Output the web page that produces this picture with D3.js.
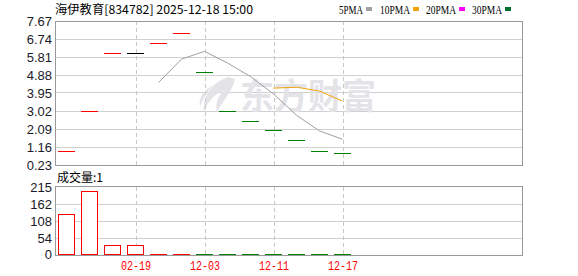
<!DOCTYPE html>
<html>
<head>
<meta charset="utf-8">
<script src="https://cdn.jsdelivr.net/npm/d3@7"></script>
<style>
  body { margin: 0; background: #fff; }
  svg { display: block; }
</style>
</head>
<body>
<div id="chart"></div>
<script>
var closes = [0.95, 3.00, 6.00, 6.00, 6.50, 7.02, 5.00, 3.00, 2.50, 2.00, 1.50, 0.95, 0.85];
var ma5 = [null, null, null, null, 4.49, 5.70, 6.10, 5.50, 4.80, 3.90, 2.80, 1.99, 1.56];
var ma10 = [null, null, null, null, null, null, null, null, null, 4.20, 4.25, 4.05, 3.53];
var volumes = [128, 202, 34, 34, 1, 1, 1, 1, 1, 1, 1, 1, 1];
var priceTicks = [7.67, 6.74, 5.81, 4.88, 3.95, 3.02, 2.09, 1.16, 0.23];
var volTicks = [215, 162, 108, 54, 0];
var dateIdx = [3, 6, 9, 12];
var dateLabels = ["02-19", "12-03", "12-11", "12-17"];
var legendNames = ["5PMA", "10PMA", "20PMA", "30PMA"];
var legendColors = ["#a0a0a0", "#f0a30a", "#ff00ff", "#006e2e"];

var W = 578, H = 276;
var left = 55, right = 522;
var mainTop = 21, mainBottom = 165;
var volTop = 187, volBottom = 255;

var svg = d3.select("#chart").append("svg")
    .attr("width", W)
    .attr("height", H);

var x = d3.scaleBand()
    .domain(d3.range(20))
    .range([left, left + 460])
    .paddingInner(0.26)
    .paddingOuter(0.13);

var y = d3.scaleLinear()
    .domain([0.23, 7.67])
    .range([mainBottom, mainTop]);

var yv = d3.scaleLinear()
    .domain([0, 215])
    .range([256, 187]);

function px(v) { return Math.floor(v) + 0.5; }
function cx(i) { return Math.round(x(i) + x.bandwidth() / 2); }

// title + legend
svg.append("text")
    .attr("x", 55).attr("y", 14)
    .attr("font-family", "'Noto Sans CJK SC', sans-serif")
    .attr("font-size", "12px")
    .attr("fill", "#000")
    .attr("textLength", 198)
    .attr("lengthAdjust", "spacingAndGlyphs")
    .text("海伊教育[834782] 2025-12-18 15:00");

var legX = [339, 380, 426, 472];
var legW = [24, 30, 30, 30];
legendNames.forEach(function (n, i) {
    svg.append("text")
        .attr("x", legX[i]).attr("y", 14)
        .attr("font-family", "'Liberation Serif', serif")
        .attr("font-size", "12px")
        .attr("fill", "#000")
        .attr("textLength", legW[i])
        .attr("lengthAdjust", "spacingAndGlyphs")
        .text(n);
    svg.append("rect")
        .attr("x", legX[i] + legW[i] + 3).attr("y", 7)
        .attr("width", 6).attr("height", 4)
        .attr("fill", legendColors[i]);
});

// main pane
var gMain = svg.append("g");
gMain.selectAll(".hgrid")
    .data(priceTicks.slice(1, -1))
    .enter().append("line")
    .attr("x1", left).attr("x2", right)
    .attr("y1", function (d) { return px(y(d)); })
    .attr("y2", function (d) { return px(y(d)); })
    .attr("stroke", "#d0d0d0")
    .attr("shape-rendering", "crispEdges");

// watermark
var wm = gMain.append("g").attr("fill", "#e4e4e8");
wm.append("path")
    .attr("d", "M228,77 C212,83 202,96 204,112 C208,101 215,94 224,90 C217,98 215,105 217,112 C224,99 233,90 235,79 Z M213,85 C204,90 198,98 200,107 C203,98 207,92 213,85 Z");
wm.append("text")
    .attr("x", 240).attr("y", 109)
    .attr("font-family", "'Noto Sans CJK SC', sans-serif")
    .attr("font-weight", "bold")
    .attr("font-size", "35px")
    .attr("textLength", 136)
    .attr("lengthAdjust", "spacingAndGlyphs")
    .text("东方财富");

gMain.selectAll(".vgrid")
    .data(dateIdx)
    .enter().append("line")
    .attr("x1", function (d) { return cx(d) + 0.5; })
    .attr("x2", function (d) { return cx(d) + 0.5; })
    .attr("y1", mainTop).attr("y2", mainBottom)
    .attr("stroke", "#c8c8c8")
    .attr("stroke-dasharray", "4,3")
    .attr("shape-rendering", "crispEdges");

function candleColor(d, i) {
    if (i === 0 || d > closes[i - 1]) return "#ff0000";
    if (d < closes[i - 1]) return "#008000";
    return "#000000";
}

// open = close on every day, so each candle is a flat bar
gMain.selectAll(".candle")
    .data(closes)
    .enter().append("rect")
    .attr("x", function (d, i) { return Math.round(x(i)); })
    .attr("width", Math.round(x.bandwidth()))
    .attr("y", function (d) { return Math.floor(y(d)); })
    .attr("height", 1)
    .attr("fill", candleColor)
    .attr("shape-rendering", "crispEdges");

function maLine(data, color) {
    var line = d3.line()
        .defined(function (d) { return d != null; })
        .x(function (d, i) { return x(i) + x.bandwidth() / 2; })
        .y(function (d) { return y(d); });
    gMain.append("path")
        .datum(data)
        .attr("d", line)
        .attr("fill", "none")
        .attr("stroke", color)
        .attr("stroke-width", 1);
}
maLine(ma5, "#a0a0a0");
maLine(ma10, "#f0a30a");

gMain.append("rect")
    .attr("x", left + 0.5).attr("y", mainTop + 0.5)
    .attr("width", right - left).attr("height", mainBottom - mainTop)
    .attr("fill", "none")
    .attr("stroke", "#999")
    .attr("shape-rendering", "crispEdges");

gMain.selectAll(".ptick")
    .data(priceTicks)
    .enter().append("text")
    .attr("x", 52)
    .attr("y", function (d) { return y(d); })
    .attr("dy", "0.36em")
    .attr("text-anchor", "end")
    .attr("font-family", "'Liberation Sans', Arial, sans-serif")
    .attr("font-size", "13px")
    .attr("fill", "#1a1a2a")
    .text(function (d) { return d.toFixed(2); });

// volume pane
var gVol = svg.append("g");
gVol.append("text")
    .attr("x", 57).attr("y", 182)
    .attr("font-family", "'Noto Sans CJK SC', sans-serif")
    .attr("font-size", "12px")
    .attr("fill", "#000")
    .text("成交量:" + volumes[volumes.length - 1]);

gVol.selectAll(".vhgrid")
    .data(volTicks.slice(1, -1))
    .enter().append("line")
    .attr("x1", left).attr("x2", right)
    .attr("y1", function (d) { return px(yv(d)); })
    .attr("y2", function (d) { return px(yv(d)); })
    .attr("stroke", "#d0d0d0")
    .attr("shape-rendering", "crispEdges");

gVol.selectAll(".vvgrid")
    .data(dateIdx)
    .enter().append("line")
    .attr("x1", function (d) { return cx(d) + 0.5; })
    .attr("x2", function (d) { return cx(d) + 0.5; })
    .attr("y1", volTop).attr("y2", volBottom)
    .attr("stroke", "#c8c8c8")
    .attr("stroke-dasharray", "4,3")
    .attr("shape-rendering", "crispEdges");

function isDown(i) { return i > 0 && closes[i] < closes[i - 1]; }
function volColor(d, i) { return isDown(i) ? "#008000" : "#ff0000"; }

var big = volumes.map(function (v, i) { return {v: v, i: i}; })
    .filter(function (d) { return volBottom - yv(d.v) >= 2; });
var tiny = volumes.map(function (v, i) { return {v: v, i: i}; })
    .filter(function (d) { return volBottom - yv(d.v) < 2; });

gVol.selectAll(".vbar")
    .data(big)
    .enter().append("rect")
    .attr("x", function (d) { return Math.round(x(d.i)) + 0.5; })
    .attr("width", Math.round(x.bandwidth()) - 1)
    .attr("y", function (d) { return px(yv(d.v)); })
    .attr("height", function (d) { return volBottom - px(yv(d.v)) - 1; })
    .attr("fill", function (d) { return isDown(d.i) ? "#008000" : "#fff"; })
    .attr("stroke", function (d) { return volColor(d.v, d.i); })
    .attr("shape-rendering", "crispEdges");

// volumes too small to show a box sit as a 1px line on the floor
gVol.selectAll(".vflat")
    .data(tiny)
    .enter().append("rect")
    .attr("x", function (d) { return Math.round(x(d.i)); })
    .attr("width", Math.round(x.bandwidth()))
    .attr("y", volBottom - 1)
    .attr("height", 1)
    .attr("fill", function (d) { return volColor(d.v, d.i); })
    .attr("shape-rendering", "crispEdges");

gVol.append("rect")
    .attr("x", left + 0.5).attr("y", volTop - 0.5)
    .attr("width", right - left).attr("height", volBottom - volTop + 1)
    .attr("fill", "none")
    .attr("stroke", "#999")
    .attr("shape-rendering", "crispEdges");

gVol.selectAll(".vtick")
    .data(volTicks)
    .enter().append("text")
    .attr("x", 52)
    .attr("y", function (d) { return Math.min(yv(d), 254); })
    .attr("dy", "0.36em")
    .attr("text-anchor", "end")
    .attr("font-family", "'Liberation Sans', Arial, sans-serif")
    .attr("font-size", "13px")
    .attr("fill", "#1a1a2a")
    .text(function (d) { return d; });

gVol.selectAll(".xlab")
    .data(dateIdx)
    .enter().append("text")
    .attr("x", function (d) { return cx(d); })
    .attr("y", 270)
    .attr("text-anchor", "middle")
    .attr("font-family", "'Liberation Mono', monospace")
    .attr("font-size", "12px")
    .attr("fill", "#ff0000")
    .attr("textLength", 30)
    .attr("lengthAdjust", "spacingAndGlyphs")
    .text(function (d, i) { return dateLabels[i]; });
</script>
</body>
</html>
